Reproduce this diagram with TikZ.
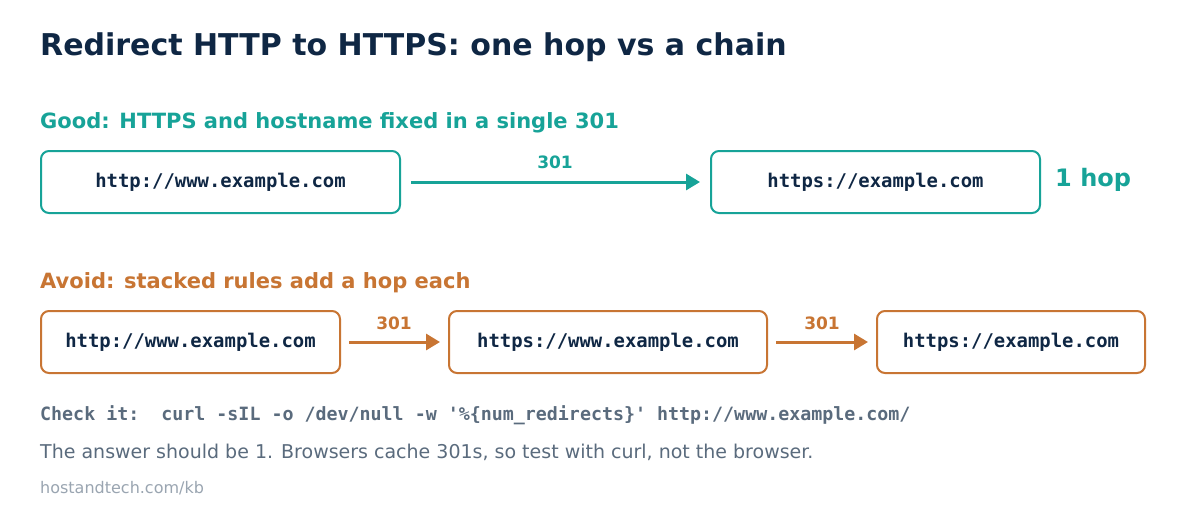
\documentclass[tikz,border=0pt]{standalone}
\usepackage{fontspec}
\setmainfont{DejaVu Sans}
\setmonofont{DejaVu Sans Mono}
\usetikzlibrary{positioning,arrows.meta}
\definecolor{navy}{HTML}{0F2744}
\definecolor{teal}{HTML}{17A398}
\definecolor{rust}{HTML}{C87533}
\definecolor{slate}{HTML}{5A6B7D}
\definecolor{pale}{HTML}{9AA5B1}
\tikzset{
  box/.style={draw=#1, line width=2pt, rounded corners=8pt, minimum height=62pt,
    inner sep=0pt, font=\ttfamily\bfseries\fontsize{18.9}{22}\selectfont, text=navy},
  hop/.style={draw=#1, line width=3pt, -{Triangle[length=14pt,width=16pt]}},
  hoplabel/.style={font=\bfseries\fontsize{17}{20}\selectfont, text=#1},
  heading/.style={anchor=west, inner sep=0pt, font=\bfseries\fontsize{21}{25}\selectfont, text=#1}
}
\begin{document}
\begin{tikzpicture}[x=1pt,y=-1pt]
\useasboundingbox[fill=white] (0,0) rectangle (1200,520);

\node[anchor=west, inner sep=0pt, text=navy, font=\bfseries\fontsize{30}{34}\selectfont] (title) at (40,47) {Redirect HTTP to HTTPS: one hop vs a chain};

% good case
\node[heading=teal] (good) at (40,123) {Good: HTTPS and hostname fixed in a single 301};
\node[box=teal, minimum width=359pt] (g1) at (220.5,182) {http://www.example.com};
\node[box=teal, minimum width=329pt] (g2) at (875.5,182) {https://example.com};
\draw[hop=teal] ([xshift=10pt]g1.east) -- ([xshift=-10pt]g2.west);
\node[hoplabel=teal] (gl) at (555,162) {301};
\node[anchor=west, inner sep=0pt, text=teal, font=\bfseries\fontsize{24}{28}\selectfont] (onehop) at (1055,180) {1 hop};

% chained case
\node[heading=rust] (avoid) at (40,283) {Avoid: stacked rules add a hop each};
\node[box=rust, minimum width=299pt] (a1) at (190.5,342) {http://www.example.com};
\node[box=rust, minimum width=318pt] (a2) at (608,342) {https://www.example.com};
\node[box=rust, minimum width=268pt] (a3) at (1011,342) {https://example.com};
\draw[hop=rust] ([xshift=8pt]a1.east) -- ([xshift=-8pt]a2.west);
\draw[hop=rust] ([xshift=8pt]a2.east) -- ([xshift=-8pt]a3.west);
\node[hoplabel=rust] (al1) at (394,323) {301};
\node[hoplabel=rust] (al2) at (822,323) {301};

% footer
\node[anchor=west, inner sep=0pt, text=slate, font=\ttfamily\bfseries\fontsize{18.3}{21}\selectfont] (check) at (40,415) {Check it:\ \ curl -sIL -o /dev/null -w '\%\{num\_redirects\}' http://www.example.com/};
\node[anchor=west, inner sep=0pt, text=slate, font=\fontsize{19}{23}\selectfont] (answer) at (40,452) {The answer should be 1. Browsers cache 301s, so test with curl, not the browser.};
\node[anchor=west, inner sep=0pt, text=pale, font=\fontsize{16}{19}\selectfont] (site) at (40,488) {hostandtech.com/kb};
\end{tikzpicture}
\end{document}
